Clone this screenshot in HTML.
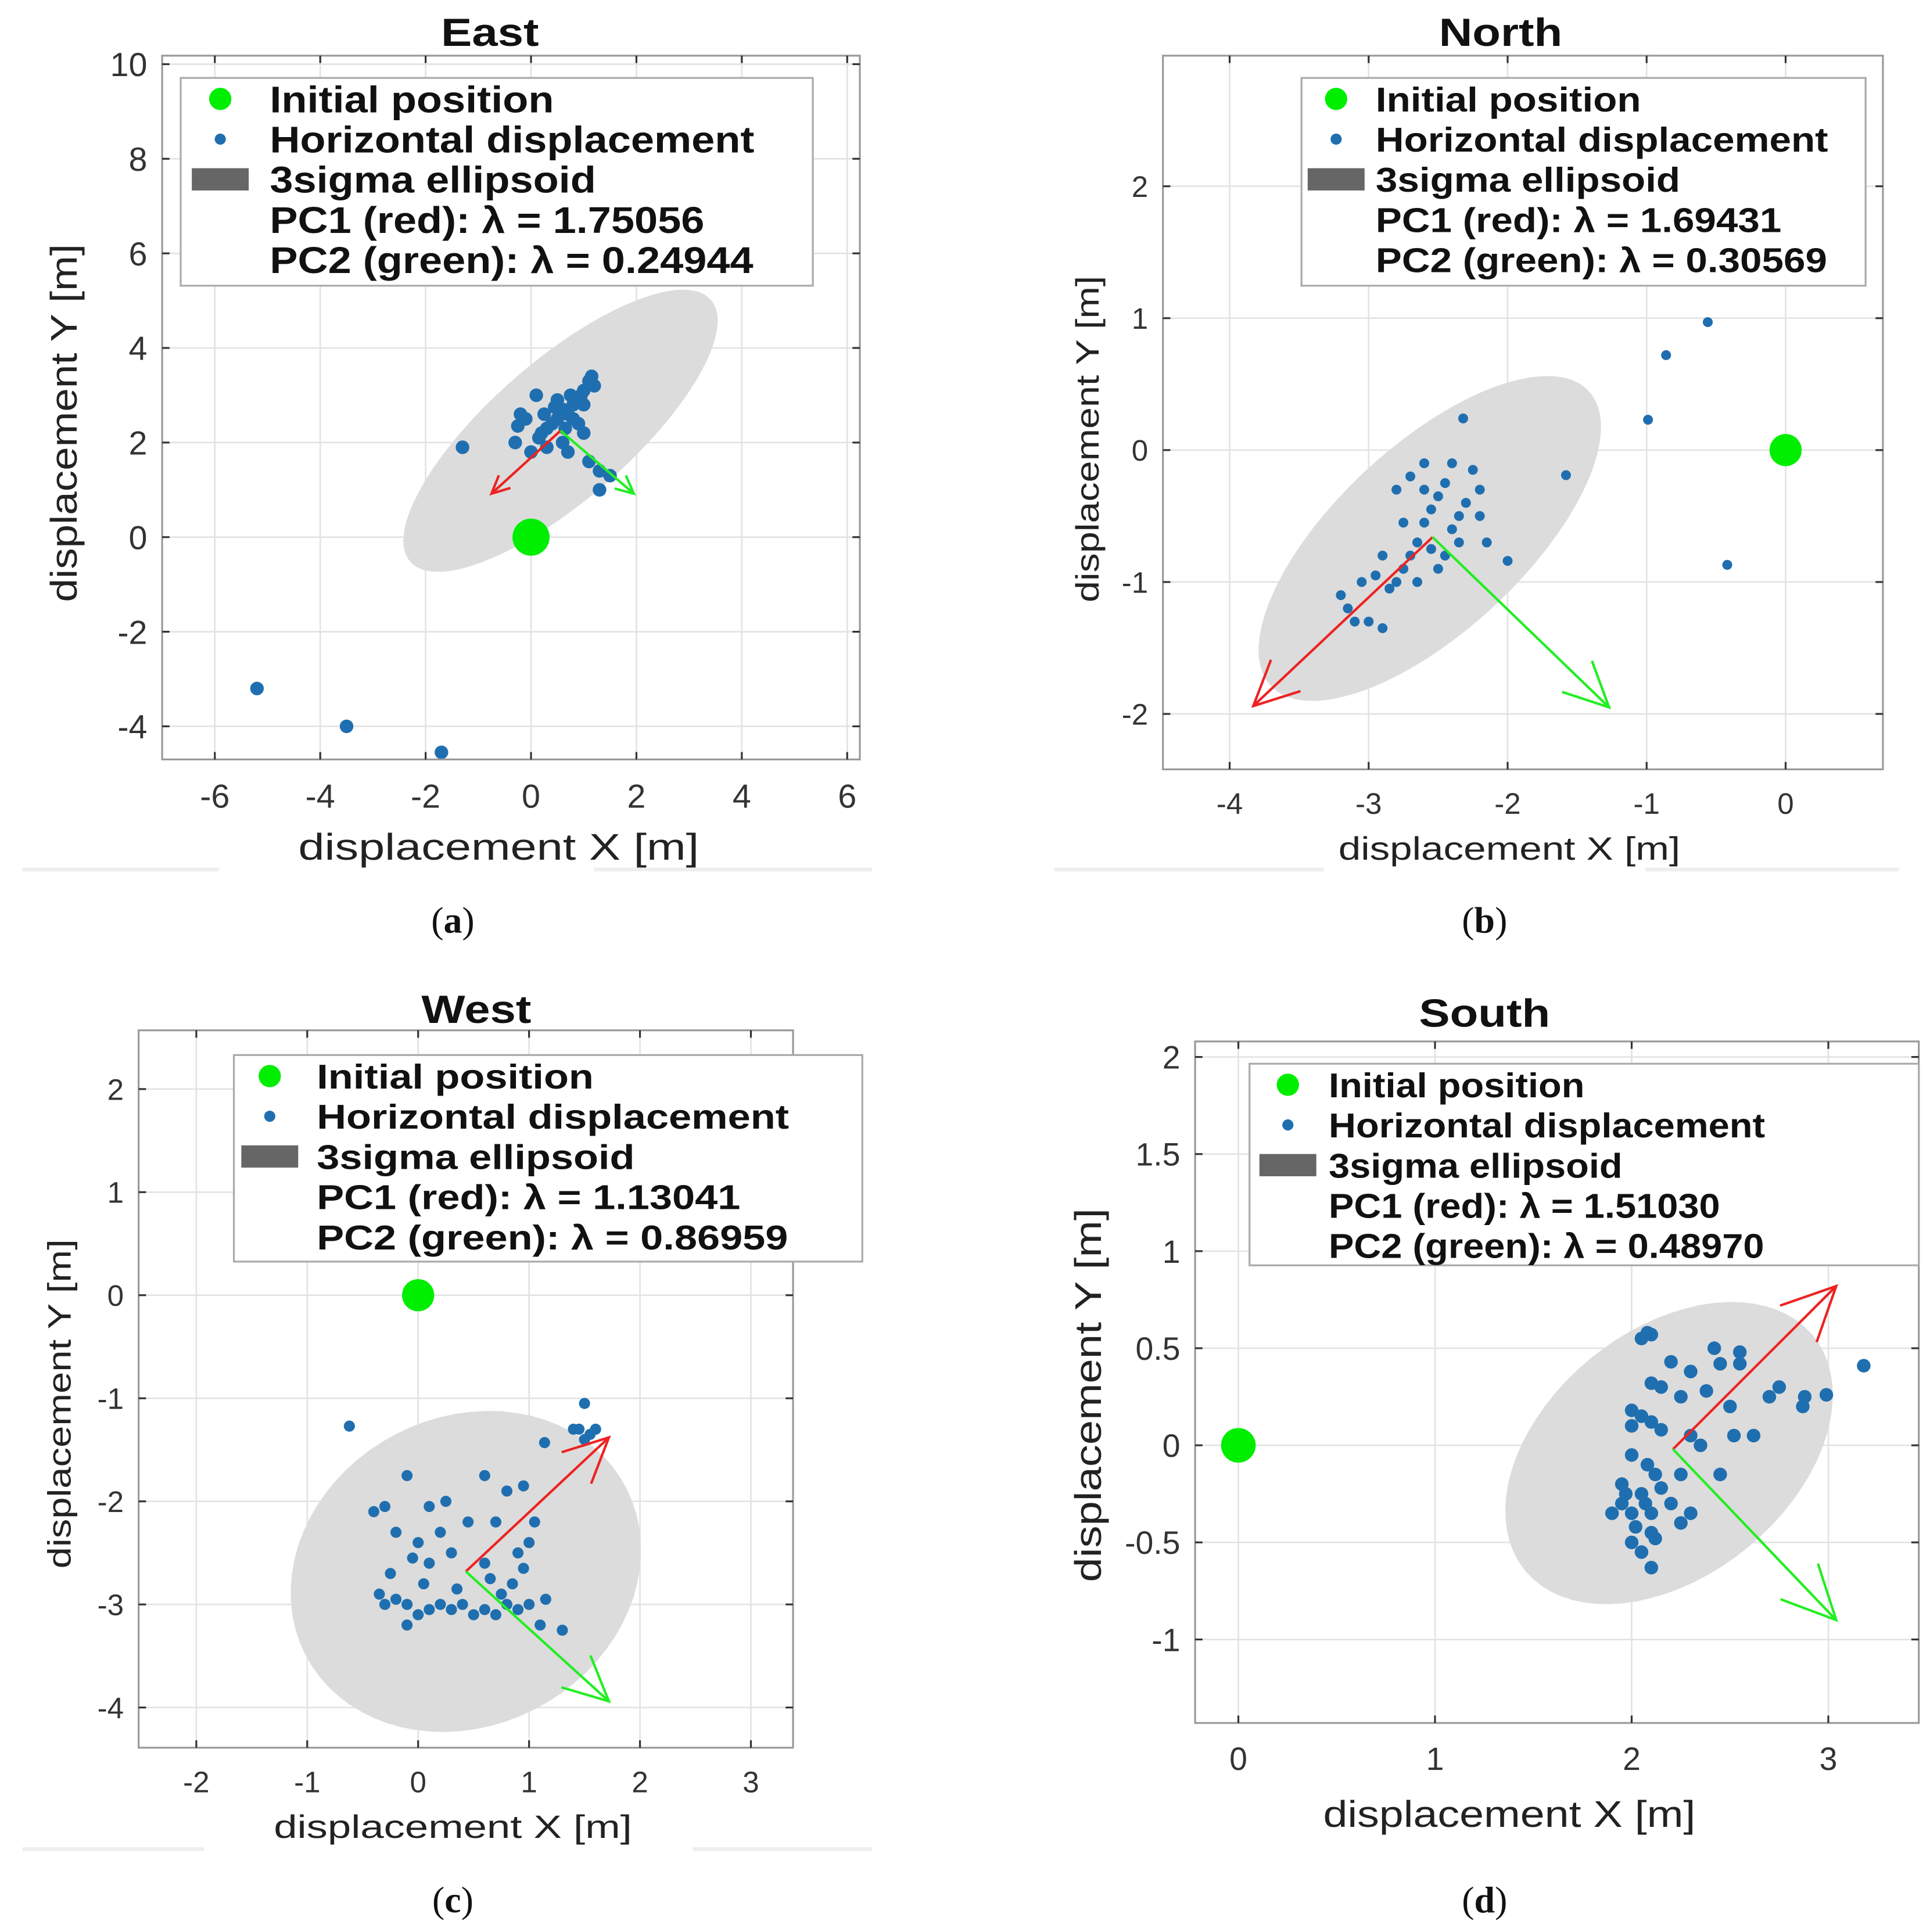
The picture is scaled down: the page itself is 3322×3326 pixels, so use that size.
<!DOCTYPE html>
<html><head><meta charset="utf-8">
<style>
html,body{margin:0;padding:0;background:#fff;}
svg{display:block;}
text{font-family:"Liberation Sans",sans-serif;}
</style></head>
<body>
<svg id="fig" width="3322" height="3326" viewBox="0 0 1560 1562" xmlns="http://www.w3.org/2000/svg"></svg>
<script>
// ---- Panel (a) East data ----
const eastXTicks = [-6,-4,-2,0,2,4,6];
const eastYTicks = [-4,-2,0,2,4,6,8,10];
const eastPtsX = [1.1,1.2,1.0,0.9,0.8,0.6,0.7,0.5,0.4,0.3,0.2,0.6,0.3,-0.2,-0.1,0.1,-0.3,0.0,0.9,1.0,1.1,1.3,1.3,1.5,0.7,0.8,0.5,1.0,-1.3,-5.2,-3.5,-1.7,1.15,0.95,0.75,0.45,0.25,-0.25,0.15,0.65];
const eastPtsY = [3.3,3.2,3.1,2.9,2.8,2.7,2.6,2.5,2.4,2.3,2.2,2.0,1.9,2.6,2.5,3.0,2.0,1.8,2.4,2.2,1.6,1.4,1.0,1.3,1.8,2.5,2.9,2.8,1.9,-3.2,-4.0,-4.55,3.4,3.0,3.0,2.75,2.6,2.35,2.1,2.3];
const eastEllipse = [0.56,2.25,3.98,1.4,45];
const eastArrows = [0.56,2.25,-0.75,0.92,1.95,0.92];
const eastLegend = ["Initial position","Horizontal displacement","3sigma ellipsoid","PC1 (red): λ = 1.75056","PC2 (green): λ = 0.24944"];

// ---- Panel (b) North data ----
const northXTicks = [-4,-3,-2,-1,0];
const northYTicks = [-2,-1,0,1,2];
const northPtsX = [-3.2,-3.15,-3.0,-2.9,-3.05,-2.95,-2.85,-2.8,-2.75,-2.7,-2.65,-2.6,-2.55,-2.5,-2.45,-2.55,-2.4,-2.35,-2.3,-2.25,-2.2,-2.15,-2.7,-2.8,-2.6,-2.5,-2.65,-2.9,-2.45,-2.35,-2.75,-3.1,-2.2,-2.4,-2.6,-2.32,-1.58,-0.99,-0.86,-0.56,-0.42,-2.0];
const northPtsY = [-1.1,-1.2,-1.3,-1.35,-1.0,-0.95,-1.05,-1.0,-0.9,-0.8,-0.7,-0.55,-0.45,-0.35,-0.25,-0.75,-0.6,-0.5,-0.4,-0.15,-0.5,-0.7,-0.2,-0.3,-0.1,-0.9,-1.0,-0.8,-0.8,-0.7,-0.55,-1.3,-0.3,-0.1,-0.3,0.24,-0.19,0.23,0.72,0.97,-0.87,-0.84];
const northEllipse = [-2.56,-0.67,1.6,0.69,45];
const northArrows = [-2.54,-0.66,-3.83,-1.94,-1.27,-1.95];
const northLegend = ["Initial position","Horizontal displacement","3sigma ellipsoid","PC1 (red): λ = 1.69431","PC2 (green): λ = 0.30569"];

// ---- Panel (c) West data ----
const westXTicks = [-2,-1,0,1,2,3];
const westYTicks = [-4,-3,-2,-1,0,1,2];
const westPtsX = [-0.62,1.5,1.45,1.55,1.5,1.4,1.6,1.14,-0.4,-0.3,-0.1,0.1,0.25,0.6,0.8,0.95,1.05,1.0,0.9,-0.2,0.0,0.1,0.2,0.3,-0.35,-0.3,-0.2,-0.1,0.0,0.1,0.2,0.3,0.4,0.5,0.6,0.7,0.8,0.9,1.0,1.1,1.3,0.75,0.85,-0.25,0.05,-0.1,0.45,0.6,0.7,0.35,0.65,0.95,1.15,-0.05];
const westPtsY = [-1.27,-1.05,-1.3,-1.35,-1.4,-1.3,-1.3,-1.43,-2.1,-2.05,-1.75,-2.05,-2.0,-1.75,-1.9,-1.85,-2.2,-2.4,-2.5,-2.3,-2.4,-2.6,-2.3,-2.5,-2.9,-3.0,-2.95,-3.0,-3.1,-3.05,-3.0,-3.05,-3.0,-3.1,-3.05,-3.1,-3.0,-3.05,-3.0,-3.2,-3.25,-2.9,-2.8,-2.7,-2.8,-3.2,-2.2,-2.6,-2.2,-2.85,-2.75,-2.65,-2.95,-2.55];
const westEllipse = [0.43,-2.68,1.67,1.46,42];
const westArrows = [0.43,-2.68,1.72,-1.38,1.72,-3.94];
const westLegend = ["Initial position","Horizontal displacement","3sigma ellipsoid","PC1 (red): λ = 1.13041","PC2 (green): λ = 0.86959"];

// ---- Panel (d) South data ----
const southXTicks = [0,1,2,3];
const southYTicks = [-1,-0.5,0,0.5,1,1.5,2];
const southPtsX = [3.18,2.99,2.08,2.1,2.05,2.2,2.3,2.42,2.45,2.55,2.55,2.1,2.15,2.25,2.38,2.5,2.7,2.75,2.88,2.87,2.0,2.05,2.1,2.0,2.15,2.3,2.52,2.62,2.35,2.0,2.08,2.12,1.95,2.05,2.15,2.25,2.45,1.95,2.0,2.1,2.2,1.9,2.02,2.1,2.25,2.3,2.0,2.12,2.05,2.1,1.97,2.07];
const southPtsY = [0.41,0.26,0.58,0.57,0.55,0.43,0.38,0.5,0.42,0.48,0.42,0.32,0.3,0.25,0.28,0.2,0.25,0.3,0.25,0.2,0.18,0.15,0.12,0.1,0.08,0.05,0.05,0.05,0.0,-0.05,-0.1,-0.15,-0.2,-0.25,-0.22,-0.15,-0.15,-0.3,-0.35,-0.35,-0.3,-0.35,-0.42,-0.45,-0.4,-0.35,-0.5,-0.48,-0.55,-0.63,-0.25,-0.3];
const southEllipse = [2.19,-0.04,0.95,0.63,40];
const southArrows = [2.21,-0.02,3.04,0.82,3.04,-0.9];
const southLegend = ["Initial position","Horizontal displacement","3sigma ellipsoid","PC1 (red): λ = 1.51030","PC2 (green): λ = 0.48970"];

const NS = "http://www.w3.org/2000/svg";
const svg = document.getElementById('fig');
function mk(tag, attrs, parent){ const e=document.createElementNS(NS,tag); for(const k in attrs) e.setAttribute(k,attrs[k]); (parent||svg).appendChild(e); return e; }
function stxt(parent,x,y,k,attrs,rot){
  const t=mk('text',attrs,parent); t.setAttribute('x',0); t.setAttribute('y',0);
  t.setAttribute('transform','translate('+x+','+y+')'+(rot?' rotate(-90)':'')+' scale('+k+',1)');
  return t;
}

function panel(cfg){
  const g = mk('g',{});
  
  
  const L=cfg.box[0], T=cfg.box[1], R=cfg.box[2], B=cfg.box[3];
  const sx = v => L + (v-cfg.xlim[0])/(cfg.xlim[1]-cfg.xlim[0])*(R-L);
  const sy = v => B - (v-cfg.ylim[0])/(cfg.ylim[1]-cfg.ylim[0])*(B-T);
  cfg.xt.forEach(v=>{ const l=mk('line',{x1:sx(v),x2:sx(v),y1:T,y2:B,stroke:'#e2e2e2','stroke-width':1.2},g);
      });
  cfg.yt.forEach(v=>{ const l=mk('line',{x1:L,x2:R,y1:sy(v),y2:sy(v),stroke:'#e2e2e2','stroke-width':1.2},g);
      });
  const e=cfg.ell, th=e[4]*Math.PI/180; let d='';
  for(let i=0;i<=72;i++){ const t=i/72*2*Math.PI;
    const x=e[0]+e[2]*Math.cos(t)*Math.cos(th)-e[3]*Math.sin(t)*Math.sin(th);
    const y=e[1]+e[2]*Math.cos(t)*Math.sin(th)+e[3]*Math.sin(t)*Math.cos(th);
    d+=(i?'L':'M')+sx(x).toFixed(1)+' '+sy(y).toFixed(1); }
  const el=mk('path',{d:d+'Z',fill:'#dcdcdc'},g);
   
  cfg.px.forEach((v,i)=>{ const c=mk('circle',{cx:sx(v),cy:sy(cfg.py[i]),r:cfg.mr,fill:'#1f6fb0'},g);
      });
  const ip=mk('circle',{cx:sx(0),cy:sy(0),r:cfg.ir,fill:'#00ee00'},g);
   
  const a=cfg.arr;
  [[a[2],a[3],'#ee2222','pc1-arrow'],[a[4],a[5],'#22ee22','pc2-arrow']].forEach(q=>{
    const x0=sx(a[0]),y0=sy(a[1]),x1=sx(q[0]),y1=sy(q[1]);
    const ang=Math.atan2(y1-y0,x1-x0), hl=cfg.hl, ha=0.45;
    const p='M'+x0+' '+y0+'L'+x1+' '+y1+'M'+(x1-hl*Math.cos(ang-ha))+' '+(y1-hl*Math.sin(ang-ha))+'L'+x1+' '+y1+'L'+(x1-hl*Math.cos(ang+ha))+' '+(y1-hl*Math.sin(ang+ha));
    const pa=mk('path',{d:p,stroke:q[2],'stroke-width':2,fill:'none'},g);
     
  });
  const bx=mk('rect',{x:L,y:T,width:R-L,height:B-T,fill:'none',stroke:'#9a9a9a','stroke-width':1.5},g);
   
  cfg.xt.forEach(v=>{
    mk('line',{x1:sx(v),x2:sx(v),y1:B,y2:B-6,stroke:'#333','stroke-width':1.5},g);
    mk('line',{x1:sx(v),x2:sx(v),y1:T,y2:T+6,stroke:'#333','stroke-width':1.5},g);
    const t=mk('text',{x:sx(v),y:B+cfg.tfs+12,'text-anchor':'middle','font-size':cfg.tfs,fill:'#333'},g);
    t.textContent=String(v);   });
  cfg.yt.forEach(v=>{
    mk('line',{x1:L,x2:L+6,y1:sy(v),y2:sy(v),stroke:'#333','stroke-width':1.5},g);
    mk('line',{x1:R,x2:R-6,y1:sy(v),y2:sy(v),stroke:'#333','stroke-width':1.5},g);
    const t=mk('text',{x:L-12,y:sy(v)+cfg.tfs*0.36,'text-anchor':'end','font-size':cfg.tfs,fill:'#333'},g);
    t.textContent=String(v);   });
  const xl=stxt(g,cfg.xlab[0],cfg.xlab[1],cfg.xk,{'text-anchor':'middle','font-size':cfg.afs,fill:'#222'});
  xl.textContent='displacement X [m]';  
  const yl=stxt(g,cfg.ylab[0],cfg.ylab[1],cfg.yk,{'text-anchor':'middle','font-size':cfg.afs,fill:'#222'},true);
  yl.textContent='displacement Y [m]';  
  const ti=stxt(g,cfg.title[0],cfg.title[1],1.17,{'text-anchor':'middle','font-size':32,'font-weight':'bold',fill:'#111'});
  ti.textContent=cfg.titleText;  
  const lg=mk('g',{},g);  
  const lb=cfg.lbox;
  mk('rect',{x:lb[0],y:lb[1],width:lb[2]-lb[0],height:lb[3]-lb[1],fill:'#fff',stroke:'#aaa','stroke-width':1.5},lg);
  cfg.leg.forEach((s,i)=>{
    const cy=lb[1]+17+32.5*i;
    const t=stxt(lg,cfg.ltx,cy+cfg.lfs*0.36,cfg.lk,{'font-size':cfg.lfs,'font-weight':'bold',fill:'#111'});
    t.textContent=s;  
    if(i===0) mk('circle',{cx:cfg.lix,cy:cy,r:9,fill:'#00ee00'},lg);
    if(i===1) mk('circle',{cx:cfg.lix,cy:cy,r:4.5,fill:'#1f6fb0'},lg);
    if(i===2) mk('rect',{x:cfg.lix-23,y:cy-9,width:46,height:18,fill:'#666'},lg);
  });
  const cp=mk('text',{x:cfg.cap[0],y:cfg.cap[1],'text-anchor':'middle','font-size':30,fill:'#111',style:'font-family:"Liberation Serif",serif'},g);
   
  cp.appendChild(document.createTextNode('('));
  const tb=mk('tspan',{'font-weight':'bold'},cp); tb.textContent=cfg.capText;
  cp.appendChild(document.createTextNode(')'));
  cfg.seps.forEach(s=>mk('line',{x1:s[0],x2:s[1],y1:s[2],y2:s[2],stroke:'#eeeeee','stroke-width':3},g));
}

panel({name:'east',titleText:'East',title:[396,37],box:[131,45,695,614],xlim:[-7.0,6.24],ylim:[-4.7,10.18],
  xt:eastXTicks,yt:eastYTicks,px:eastPtsX,py:eastPtsY,ell:eastEllipse,arr:eastArrows,leg:eastLegend,
  mr:5.5,ir:15,hl:16,tfs:27,afs:30,xk:1.27,yk:1.14,xlab:[403,695],ylab:[62,342],lbox:[146,63,657,231],lix:178,ltx:218,lfs:30,lk:1.13,
  cap:[366,754],capText:'a',seps:[[18,177,703],[480,705,703]]});
panel({name:'north',titleText:'North',title:[1213,37],box:[940,45,1522,622],xlim:[-4.48,0.70],ylim:[-2.42,2.99],
  xt:northXTicks,yt:northYTicks,px:northPtsX,py:northPtsY,ell:northEllipse,arr:northArrows,leg:northLegend,
  mr:4,ir:13,hl:40,tfs:24,afs:26,xk:1.25,yk:1.2,xlab:[1220,695],ylab:[888,355],lbox:[1052,63,1508,231],lix:1080,ltx:1112,lfs:28,lk:1.13,
  cap:[1200,754],capText:'b',seps:[[852,1070,703],[1330,1535,703]]});
panel({name:'west',titleText:'West',title:[385,827],box:[112,833,641,1413],xlim:[-2.52,3.38],ylim:[-4.39,2.57],
  xt:westXTicks,yt:westYTicks,px:westPtsX,py:westPtsY,ell:westEllipse,arr:westArrows,leg:westLegend,
  mr:4.5,ir:13,hl:40,tfs:24,afs:26,xk:1.31,yk:1.21,xlab:[366,1486],ylab:[57,1135],lbox:[189,853,697,1020],lix:218,ltx:256,lfs:28,lk:1.18,
  cap:[366,1546],capText:'c',seps:[[18,165,1495],[560,705,1495]]});
panel({name:'south',titleText:'South',title:[1200,830],box:[966,842,1551,1393],xlim:[-0.22,3.46],ylim:[-1.43,2.08],
  xt:southXTicks,yt:southYTicks,px:southPtsX,py:southPtsY,ell:southEllipse,arr:southArrows,leg:southLegend,
  mr:5.5,ir:14,hl:48,tfs:26,afs:30,xk:1.18,yk:1.19,xlab:[1220,1477],ylab:[890,1128],lbox:[1010,860,1551,1023],lix:1041,ltx:1074,lfs:28,lk:1.09,
  cap:[1200,1546],capText:'d',seps:[]});
</script>
</body></html>
